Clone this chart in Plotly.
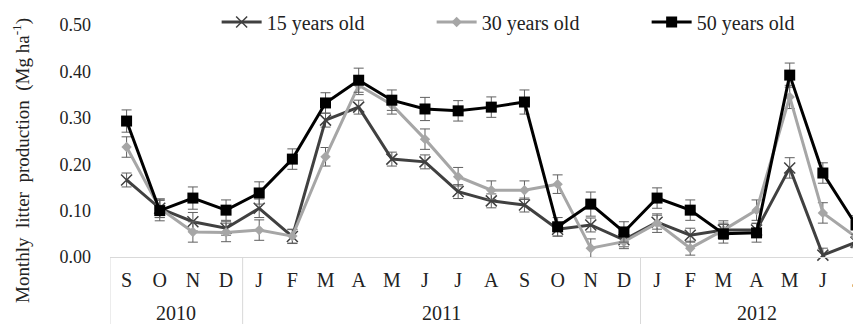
import plotly.graph_objects as go

months = ["S", "O", "N", "D",
          "J", "F", "M", "A", "M", "J", "J", "A", "S", "O", "N", "D",
          "J", "F", "M", "A", "M", "J", "J"]
years = ["2010", "2011", "2012"]
year_spans = [(0, 3), (4, 15), (16, 22)]

y15 = [0.166, 0.105, 0.076, 0.062, 0.105, 0.044, 0.295, 0.323, 0.211, 0.205, 0.141, 0.121, 0.112,
       0.060, 0.069, 0.037, 0.075, 0.047, 0.058, 0.058, 0.192, 0.004, 0.032]
y30 = [0.237, 0.105, 0.054, 0.053, 0.058, 0.045, 0.216, 0.370, 0.328, 0.254, 0.173, 0.144, 0.144,
       0.157, 0.019, 0.033, 0.073, 0.019, 0.058, 0.101, 0.345, 0.095, 0.043]
y50 = [0.293, 0.100, 0.127, 0.101, 0.138, 0.211, 0.332, 0.381, 0.338, 0.319, 0.315, 0.323, 0.334,
       0.065, 0.114, 0.054, 0.127, 0.101, 0.050, 0.052, 0.392, 0.181, 0.069]

e15 = [0.015, 0.02, 0.02, 0.015, 0.02, 0.015, 0.015, 0.015, 0.015, 0.015, 0.015, 0.015, 0.015,
       0.015, 0.015, 0.015, 0.015, 0.015, 0.015, 0.015, 0.022, 0.015, 0.012]
e30 = [0.022, 0.02, 0.022, 0.02, 0.022, 0.015, 0.02, 0.02, 0.02, 0.022, 0.02, 0.02, 0.02,
       0.02, 0.02, 0.015, 0.02, 0.015, 0.02, 0.022, 0.025, 0.022, 0.02]
e50 = [0.024, 0.022, 0.024, 0.022, 0.024, 0.022, 0.022, 0.026, 0.022, 0.025, 0.022, 0.022, 0.026,
       0.02, 0.026, 0.022, 0.022, 0.022, 0.02, 0.02, 0.026, 0.022, 0.02]

x = list(range(len(months)))
FONT = "Liberation Serif"

fig = go.Figure()

def add(name, yv, ev, color, symbol, msize, mline=None):
    marker = dict(symbol=symbol, size=msize, color=color)
    if mline:
        marker["line"] = mline
    fig.add_trace(go.Scatter(
        x=x, y=yv, name=name, mode="lines+markers",
        line=dict(color=color, width=3),
        marker=marker,
        error_y=dict(type="data", array=ev, visible=True, color="#606060", thickness=1, width=5),
        cliponaxis=False,
    ))

add("15 years old", y15, e15, "#404040", "x-thin", 11, dict(color="#404040", width=1.5))
add("30 years old", y30, e30, "#A6A6A6", "diamond", 8)
add("50 years old", y50, e50, "#000000", "square", 11)

# year labels
for yr, (a, b) in zip(years, year_spans):
    fig.add_annotation(x=(a + b) / 2, y=-0.243, xref="x", yref="paper", text=yr,
                       showarrow=False, font=dict(family=FONT, size=20, color="#222"),
                       yanchor="middle")

# category box dividers
for bnd in [-0.5, 3.5, 15.5]:
    fig.add_shape(type="line", xref="x", yref="paper", x0=bnd, x1=bnd, y0=0, y1=-0.3,
                  line=dict(color="#D9D9D9", width=1))

fig.add_annotation(x=-0.138, y=0.418, xref="paper", yref="paper",
                   text="Monthly  litter  production  (Mg ha<sup>-1</sup>)", textangle=-90,
                   showarrow=False, font=dict(family=FONT, size=19, color="#222"))

# page body adds an 8px offset; figure sized to fit the visible window
fig.update_layout(
    width=853, height=316,
    margin=dict(l=101.5, r=0, t=17, b=67, autoexpand=False),
    paper_bgcolor="white", plot_bgcolor="white",
    font=dict(family=FONT, size=18, color="#222"),
    showlegend=True,
    legend=dict(orientation="h", x=0.142, xanchor="left", y=1.013, yanchor="middle",
                font=dict(family=FONT, size=20, color="#222"),
                entrywidth=160, entrywidthmode="pixels", itemwidth=40,
                bgcolor="rgba(0,0,0,0)"),
    xaxis=dict(range=[-0.5, 22.15], tickvals=x, ticktext=months, showgrid=False,
               zeroline=False, showline=True, linecolor="#D9D9D9", linewidth=1,
               ticks="", ticklabelstandoff=5, ticklabeloverflow="allow",
               tickfont=dict(family=FONT, size=20, color="#222")),
    yaxis=dict(range=[0, 0.5], tickvals=[0, 0.1, 0.2, 0.3, 0.4, 0.5], tickformat=".2f",
               showgrid=False, zeroline=False, showline=False, ticks="",
               ticklabelstandoff=18, tickfont=dict(family=FONT, size=18, color="#222")),
)

fig.write_html("out.html")
